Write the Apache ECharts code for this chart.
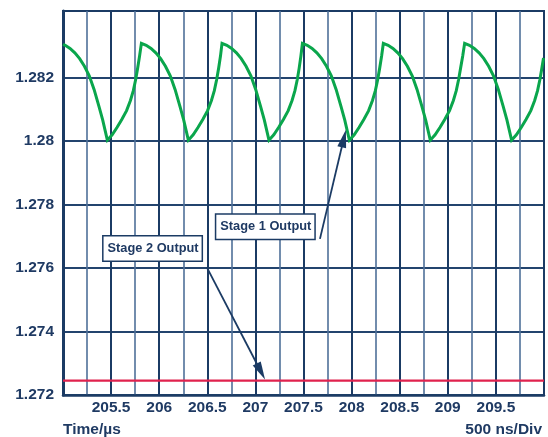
<!DOCTYPE html>
<html>
<head>
<meta charset="utf-8">
<script src="https://cdn.jsdelivr.net/npm/echarts@6/dist/echarts.min.js"></script>
<style>html,body{margin:0;padding:0;background:#fff;}#c{width:548px;height:437px;}</style>
</head>
<body>
<div id="c"></div>
<script>
// ---- data ----
const xTickLabels = ['205.5','206','206.5','207','207.5','208','208.5','209','209.5'];
const yTickLabels = ['1.272','1.274','1.276','1.278','1.28','1.282'];

// Stage 1 output (time µs, volts)
const stage1Output = [
  [205.000,1.28305],[205.023,1.28302],[205.073,1.28292],[205.123,1.28278],[205.173,1.28260],[205.223,1.28236],[205.273,1.28206],[205.323,1.28163],[205.373,1.28110],[205.413,1.28066],
  [205.461,1.28003],[205.511,1.28020],[205.561,1.28043],[205.611,1.28068],[205.661,1.28096],[205.701,1.28128],[205.731,1.28159],[205.756,1.28195],[205.776,1.28230],[205.796,1.28268],[205.815,1.28308],
  [205.865,1.28302],[205.915,1.28292],[205.965,1.28278],[206.015,1.28260],[206.065,1.28236],[206.115,1.28206],[206.165,1.28163],[206.215,1.28110],[206.255,1.28066],
  [206.303,1.28003],[206.353,1.28020],[206.403,1.28043],[206.453,1.28068],[206.503,1.28096],[206.543,1.28128],[206.573,1.28159],[206.598,1.28195],[206.618,1.28230],[206.637,1.28268],[206.653,1.28308],
  [206.703,1.28302],[206.753,1.28292],[206.803,1.28278],[206.853,1.28260],[206.903,1.28236],[206.953,1.28206],[207.003,1.28163],[207.053,1.28110],[207.093,1.28066],
  [207.141,1.28003],[207.191,1.28020],[207.241,1.28043],[207.291,1.28068],[207.341,1.28096],[207.381,1.28128],[207.411,1.28159],[207.436,1.28195],[207.455,1.28230],[207.473,1.28268],[207.489,1.28308],
  [207.539,1.28302],[207.589,1.28292],[207.639,1.28278],[207.689,1.28260],[207.739,1.28236],[207.789,1.28206],[207.839,1.28163],[207.889,1.28110],[207.929,1.28066],
  [207.977,1.28003],[208.027,1.28020],[208.077,1.28043],[208.127,1.28068],[208.177,1.28096],[208.217,1.28128],[208.247,1.28159],[208.272,1.28195],[208.292,1.28230],[208.312,1.28268],[208.330,1.28308],
  [208.380,1.28302],[208.430,1.28292],[208.480,1.28278],[208.530,1.28260],[208.580,1.28236],[208.630,1.28206],[208.680,1.28163],[208.730,1.28110],[208.770,1.28066],
  [208.818,1.28003],[208.868,1.28020],[208.918,1.28043],[208.968,1.28068],[209.018,1.28096],[209.058,1.28128],[209.088,1.28159],[209.113,1.28195],[209.133,1.28230],[209.155,1.28268],[209.175,1.28308],
  [209.225,1.28302],[209.275,1.28292],[209.325,1.28278],[209.375,1.28260],[209.425,1.28236],[209.475,1.28206],[209.525,1.28163],[209.575,1.28110],[209.615,1.28066],
  [209.663,1.28003],[209.713,1.28020],[209.763,1.28043],[209.813,1.28068],[209.863,1.28096],[209.903,1.28128],[209.933,1.28159],[209.958,1.28195],[209.978,1.28230],[209.995,1.28262]
];
// Stage 2 output (flat)
const stage2Output = [[205.0,1.27245],[206.0,1.27245],[207.0,1.27245],[208.0,1.27245],[209.0,1.27245],[210.0,1.27245]];

// annotation anchors (data coordinates); arrow ends are the centres of the heads
const stage1LabelAt = [207.103, 1.27730];
const stage1ArrowFrom = [207.671, 1.27692];
const stage1ArrowTo = [207.919, 1.28008];
const stage2LabelAt = [205.931, 1.27662];
const stage2ArrowFrom = [206.494, 1.27603];
const stage2ArrowTo = [207.057, 1.27274];

// ---- styling ----
const navy = '#1b3b64';
const navyMid = '#23446e';
const light = '#4f7099';
const textColor = '#1f3a63';
const font = '"Liberation Sans", Arial, sans-serif';

function labelFor(list) {
  return function (v) {
    for (const s of list) { if (Math.abs(parseFloat(s) - v) < 1e-6) return s; }
    return '';
  };
}

const labelBox = {
  show: true,
  position: 'inside',
  color: textColor,
  fontFamily: font,
  fontWeight: 'bold',
  fontSize: 12.8,
  lineHeight: 14,
  backgroundColor: '#ffffff',
  borderColor: navy,
  borderWidth: 1.5,
  padding: [5, 3, 5, 4]
};

const arrowHead = { symbol: 'triangle', symbolSize: [9, 18] };

const chart = echarts.init(document.getElementById('c'), null, { renderer: 'canvas' });
chart.setOption({
  animation: false,
  backgroundColor: '#ffffff',
  grid: { left: 63, right: 4, top: 11, bottom: 42, show: true, borderColor: navy, borderWidth: 2, backgroundColor: '#ffffff' },
  xAxis: [
    {
      type: 'value', min: 205, max: 210, interval: 0.5,
      axisLine: { show: true, lineStyle: { color: navy, width: 2.5 } },
      axisTick: { show: false },
      splitLine: { show: true, lineStyle: { color: navy, width: 2 } },
      axisLabel: { formatter: labelFor(xTickLabels), color: textColor, fontFamily: font, fontWeight: 'bold', fontSize: 15.5, margin: 5 }
    },
    {
      type: 'value', min: 205, max: 210, interval: 0.25, position: 'top',
      axisLine: { show: false }, axisTick: { show: false }, axisLabel: { show: false },
      splitLine: { show: true, lineStyle: { color: ['transparent', light], width: 1.6 } }
    }
  ],
  yAxis: {
    type: 'value', min: 1.272, max: 1.2841, interval: 0.002,
    axisLine: { show: true, lineStyle: { color: navy, width: 3 } },
    axisTick: { show: false },
    splitLine: { show: true, lineStyle: { color: [navyMid, navyMid, navyMid, navyMid, navyMid, navyMid, 'transparent', navy], width: 2 } },
    axisLabel: { formatter: labelFor(yTickLabels), color: textColor, fontFamily: font, fontWeight: 'bold', fontSize: 15.5, margin: 9 }
  },
  graphic: [
    { type: 'text', left: 63, top: 422, style: { text: 'Time/µs', fill: textColor, font: 'bold 15.5px ' + font } },
    { type: 'text', right: 6, top: 422, style: { text: '500 ns/Div', fill: textColor, font: 'bold 15.5px ' + font } }
  ],
  series: [
    {
      name: 'Stage 2 Output', type: 'line', data: stage2Output, showSymbol: false, symbol: 'none',
      lineStyle: { color: '#e0224e', width: 2.2 }, z: 3,
      markLine: {
        silent: true, animation: false, label: { show: false },
        lineStyle: { color: navy, width: 1.8, type: 'solid' },
        data: [[
          { coord: stage2ArrowFrom, symbol: 'none' },
          Object.assign({ coord: stage2ArrowTo }, arrowHead)
        ]]
      },
      markPoint: {
        silent: true, symbol: 'rect', symbolSize: 1, itemStyle: { color: 'transparent' },
        label: labelBox,
        data: [{ coord: stage2LabelAt, value: 'Stage 2 Output', label: { formatter: 'Stage 2 Output' } }]
      }
    },
    {
      name: 'Stage 1 Output', type: 'line', data: stage1Output, showSymbol: false, symbol: 'none',
      lineStyle: { color: '#0aa64c', width: 3, join: 'miter' }, z: 4,
      markLine: {
        silent: true, animation: false, label: { show: false },
        lineStyle: { color: navy, width: 1.8, type: 'solid' },
        data: [[
          { coord: stage1ArrowFrom, symbol: 'none' },
          Object.assign({ coord: stage1ArrowTo }, arrowHead)
        ]]
      },
      markPoint: {
        silent: true, symbol: 'rect', symbolSize: 1, itemStyle: { color: 'transparent' },
        label: labelBox,
        data: [{ coord: stage1LabelAt, value: 'Stage 1 Output', label: { formatter: 'Stage 1 Output' } }]
      }
    }
  ]
});
</script>
</body>
</html>
